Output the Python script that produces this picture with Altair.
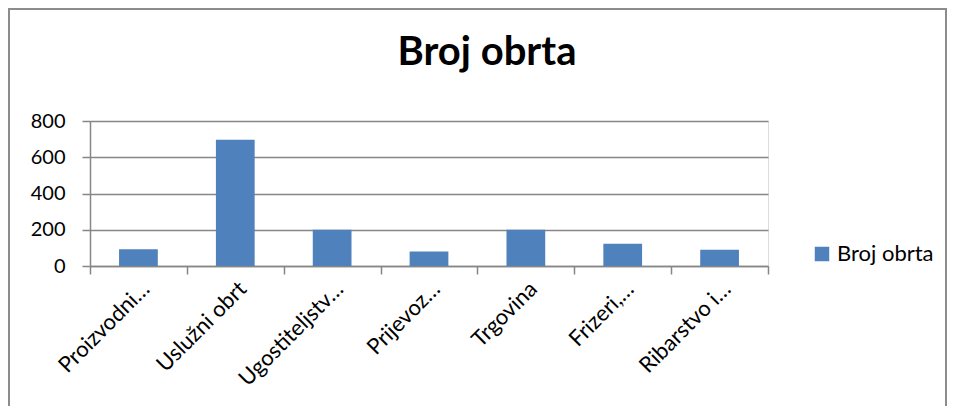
import altair as alt
import pandas as pd

categories = ["Proizvodni…", "Uslužni obrt", "Ugostiteljstv…", "Prijevoz…", "Trgovina", "Frizeri,…", "Ribarstvo i…"]
values = [92, 697, 200, 80, 200, 123, 90]
series = ["Broj obrta"] * len(categories)
y_ticks = [0, 200, 400, 600, 800]
title_text = "Broj obrta"

FONT = "Lato"
df = pd.DataFrame({"kategorija": categories, "broj": values, "serija": series})

bars = alt.Chart(df).mark_bar(width=alt.RelativeBandSize(0.4)).encode(
    x=alt.X("kategorija:N", sort=categories, title=None,
            scale=alt.Scale(paddingInner=0, paddingOuter=0),
            axis=alt.Axis(labelAngle=-45, tickBand="extent", tickSize=8,
                          labelFontSize=22, labelFont=FONT, labelColor="black",
                          domainColor="#868686", tickColor="#868686",
                          domainWidth=1.5, tickWidth=1.5, labelPadding=4, grid=False)),
    y=alt.Y("broj:Q", title=None,
            scale=alt.Scale(domain=[0, 800], nice=False),
            axis=alt.Axis(values=y_ticks, tickSize=8, labelFontSize=20, labelFont=FONT,
                          labelColor="black", labelPadding=17,
                          domainColor="#868686", tickColor="#868686", gridColor="#868686",
                          domainWidth=1.5, tickWidth=1.5, gridWidth=1.5)),
    color=alt.Color("serija:N", scale=alt.Scale(domain=["Broj obrta"], range=["#4F81BD"]),
                    legend=alt.Legend(title=None, orient="none", legendX=721, legendY=122,
                                      symbolType="square", symbolSize=210, symbolStrokeWidth=0,
                                      labelFontSize=22, labelFont=FONT, labelColor="black",
                                      symbolOpacity=1)),
)

frame = alt.Chart(alt.Data(values=[{"k": 1}])).mark_rect(
    fill="white", fillOpacity=0, stroke="#8c8c8c", strokeWidth=2, strokeOpacity=1
).encode(
    x=alt.value(-81), x2=alt.value(856), y=alt.value(-112), y2=alt.value(400)
)

title = alt.Chart(alt.Data(values=[{"t": title_text}])).mark_text(
    font=FONT, fontSize=40, fontWeight="bold", color="black", align="center", baseline="alphabetic"
).encode(text="t:N", x=alt.value(397), y=alt.value(-56))

chart = alt.layer(frame, bars, title).properties(
    width=678, height=145,
    autosize=alt.AutoSizeParams(type="none"),
    padding={"left": 82, "top": 113, "right": 179, "bottom": 140},
).configure_view(stroke=None).configure(background="white")

chart.save("out.html", embed_options={"renderer": "svg", "actions": False})
